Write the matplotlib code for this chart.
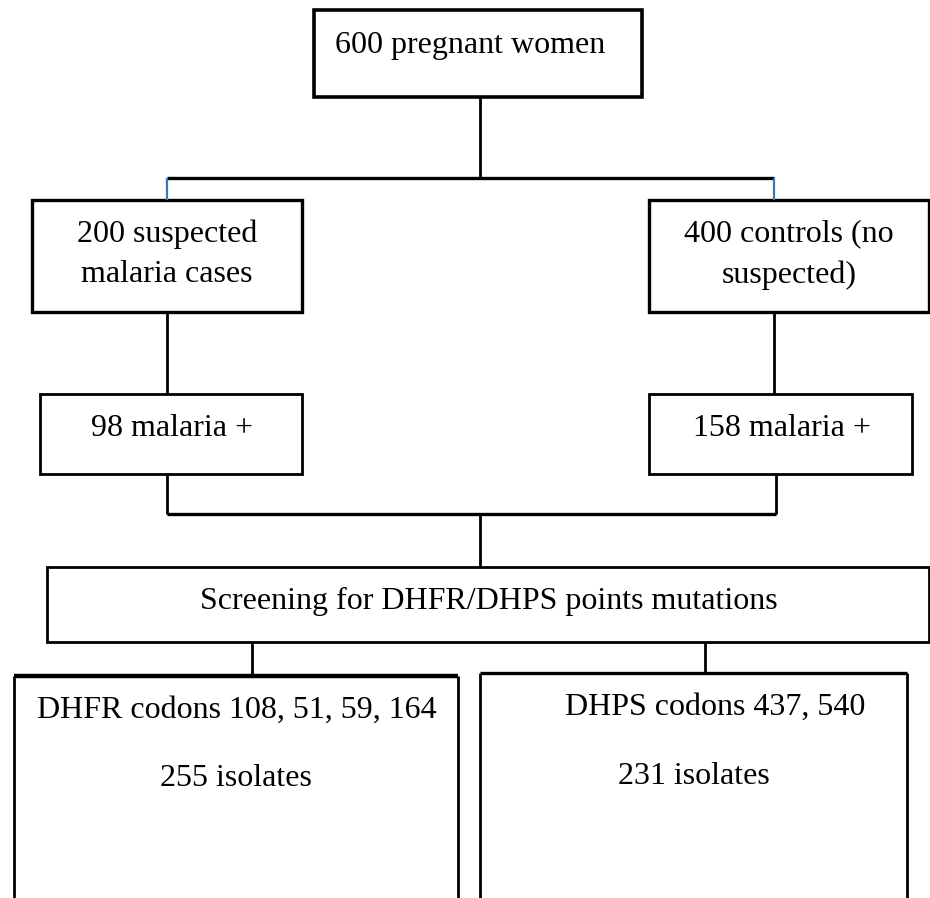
import matplotlib.pyplot as plt
from matplotlib.patches import Rectangle

# box labels (text lines inside each box)
labels_top = ["600 pregnant women"]
labels_left1 = ["200 suspected", "malaria cases"]
labels_right1 = ["400 controls (no", "suspected)"]
labels_left2 = ["98 malaria +"]
labels_right2 = ["158 malaria +"]
labels_screen = ["Screening for DHFR/DHPS points mutations"]
labels_dhfr = ["DHFR codons 108, 51, 59, 164", "255 isolates"]
labels_dhps = ["DHPS codons 437, 540", "231 isolates"]

W, H = 930, 898
fig = plt.figure(figsize=(W / 100, H / 100), dpi=100)
ax = fig.add_axes([0, 0, 1, 1])
ax.set_xlim(0, W)
ax.set_ylim(H, 0)
ax.axis('off')

plt.rcParams['font.family'] = ['Liberation Serif', 'DejaVu Serif']
FS = 23


def box(x0, y0, x1, y1, lw=2.0):
    ax.add_patch(Rectangle((x0, y0), x1 - x0, y1 - y0, fill=False,
                           edgecolor='black', linewidth=lw, clip_on=False))


def line(xs, ys, color='black', lw=2.0):
    ax.plot(xs, ys, color=color, linewidth=lw, solid_capstyle='butt')


def texts(lines, xs, ys):
    for t, x, y in zip(lines, xs, ys):
        ax.text(x, y + 3, t, ha='center', va='center', fontsize=FS, color='black')


# top box
box(314, 10, 642, 97, lw=2.6)
texts(labels_top, [470], [42])

# split
line([480, 480], [97, 178])
line([167, 774], [178, 178], lw=2.4)
line([167, 167], [178, 200], color='#3b73c6', lw=1.6)
line([774, 774], [178, 200], color='#3b73c6', lw=1.6)

# level 1 boxes
box(32, 200, 302, 312, lw=2.4)
texts(labels_left1, [167, 167], [231, 272])
box(649, 200, 929, 312, lw=2.4)
texts(labels_right1, [789, 789], [231, 272])

line([167, 167], [312, 394])
line([774, 774], [312, 394])

# level 2 boxes
box(40, 394, 302, 474)
texts(labels_left2, [172], [426])
box(649, 394, 912, 474)
texts(labels_right2, [782], [426])

# merge
line([167, 167], [474, 514])
line([776, 776], [474, 514])
line([167, 776], [514, 514], lw=2.4)
line([480, 480], [514, 567])

# screening box
box(47, 567, 929, 642)
texts(labels_screen, [489], [598])

line([252, 252], [642, 676])
line([705, 705], [642, 673])

# bottom boxes (open at the bottom edge)
line([14, 14], [676, H + 5])
line([458, 458], [676, H + 5])
line([14, 458], [676, 676], lw=3.2)
texts(labels_dhfr, [237, 236], [707, 775])

line([480, 480], [673, H + 5])
line([907, 907], [673, H + 5])
line([480, 907], [673, 673], lw=2.4)
texts(labels_dhps, [715, 694], [704, 773])

plt.savefig("out.png", dpi=100)
